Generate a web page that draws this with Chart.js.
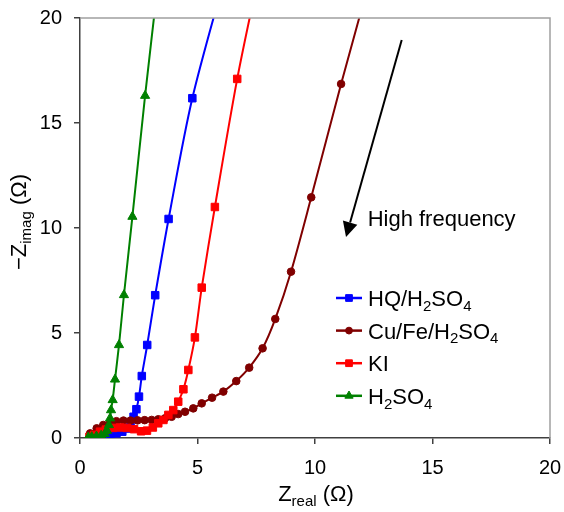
<!DOCTYPE html>
<html>
<head>
<meta charset="utf-8">
<script src="https://cdn.jsdelivr.net/npm/chart.js@4.4.1/dist/chart.umd.min.js"></script>
<style>
  html, body { margin: 0; padding: 0; background: #fff; }
  #chart { display: block; }
</style>
</head>
<body>
<canvas id="chart" width="564" height="512"></canvas>
<script>
// ── Series values (Zreal, -Zimag in ohm) ──────────────────────────────────
const hqX = [0.45, 0.65, 0.85, 1.05, 1.3, 1.55, 1.8, 2.0, 2.15, 2.28, 2.40, 2.51, 2.63, 2.86, 3.20, 3.77, 4.78, 6.3];
const hqY = [0.05, 0.10, 0.14, 0.18, 0.2, 0.22, 0.3, 0.45, 0.7, 1.01, 1.37, 1.97, 2.95, 4.43, 6.80, 10.43, 16.18, 22.5];

const cuX = [0.43, 0.71, 0.99, 1.28, 1.55, 1.85, 2.15, 2.45, 2.75, 3.05, 3.33, 3.62, 3.90, 4.18, 4.47, 4.82, 5.18, 5.62, 6.10, 6.65, 7.20, 7.77, 8.31, 8.98, 9.84, 11.11, 12.5];
const cuY = [0.22, 0.46, 0.62, 0.73, 0.80, 0.83, 0.83, 0.84, 0.85, 0.86, 0.89, 0.94, 1.01, 1.14, 1.25, 1.41, 1.65, 1.92, 2.21, 2.71, 3.35, 4.27, 5.67, 7.92, 11.46, 16.86, 22.5];

const kiX = [0.4, 0.6, 0.85, 1.1, 1.4, 1.7, 2.0, 2.3, 2.6, 2.85, 3.1, 3.33, 3.55, 3.76, 3.97, 4.18, 4.40, 4.61, 4.89, 5.18, 5.74, 6.69, 7.5];
const kiY = [0.05, 0.15, 0.3, 0.4, 0.48, 0.5, 0.48, 0.42, 0.32, 0.35, 0.5, 0.70, 0.86, 1.10, 1.33, 1.73, 2.32, 3.24, 4.79, 7.16, 11.0, 17.1, 21.5];

const h2X = [0.35, 0.5, 0.7, 0.9, 1.05, 1.15, 1.23, 1.28, 1.32, 1.39, 1.49, 1.66, 1.87, 2.23, 2.77, 3.3];
const h2Y = [0.03, 0.05, 0.08, 0.12, 0.2, 0.35, 0.62, 0.94, 1.33, 1.81, 2.79, 4.43, 6.81, 10.54, 16.3, 21.5];

const xTicks = [0, 5, 10, 15, 20];
const yTicks = [0, 5, 10, 15, 20];

// ── Styling ───────────────────────────────────────────────────────────────
const FONT = "'Liberation Sans', Arial, sans-serif";
const AXIS_COLOR = "#404040";
const BORDER_COLOR = "#a0a0a0";

const SERIES = [
  { name: [["HQ/H"], ["2", 1], ["SO"], ["4", 1]], xs: hqX, ys: hqY, color: "#0000ff", style: "rect", r: 5.3, order: 4 },
  { name: [["Cu/Fe/H"], ["2", 1], ["SO"], ["4", 1]], xs: cuX, ys: cuY, color: "#800000", style: "circle", r: 3.8, order: 3 },
  { name: [["KI"]], xs: kiX, ys: kiY, color: "#ff0000", style: "rect", r: 5.3, order: 2 },
  { name: [["H"], ["2", 1], ["SO"], ["4", 1]], xs: h2X, ys: h2Y, color: "#008000", style: "triangle", r: 5.3, order: 1 },
];

function toPoints(xs, ys) {
  return xs.map((x, i) => ({ x: x, y: ys[i] }));
}

// text with subscripts: parts = [[text, isSub], ...]
function richWidth(ctx, parts, size) {
  let w = 0;
  parts.forEach((p) => {
    ctx.font = (p[1] ? Math.round(size * 0.68) : size) + "px " + FONT;
    w += ctx.measureText(p[0]).width;
  });
  return w;
}

function drawRich(ctx, parts, x, y, size) {
  ctx.textBaseline = "alphabetic";
  ctx.textAlign = "left";
  let cx = x;
  parts.forEach((p) => {
    const s = p[1] ? Math.round(size * 0.68) : size;
    ctx.font = s + "px " + FONT;
    ctx.fillText(p[0], cx, p[1] ? y + size * 0.22 : y);
    cx += ctx.measureText(p[0]).width;
  });
}

const extras = {
  id: "extras",
  afterDraw(chart) {
    const ctx = chart.ctx;
    const a = chart.chartArea;
    const xs = chart.scales.x;
    const ys = chart.scales.y;
    ctx.save();

    // gray frame on top and right
    ctx.strokeStyle = BORDER_COLOR;
    ctx.lineWidth = 1.5;
    ctx.beginPath();
    ctx.moveTo(a.left, a.top);
    ctx.lineTo(a.right, a.top);
    ctx.lineTo(a.right, a.bottom);
    ctx.stroke();

    ctx.fillStyle = "#000";

    // x title
    const xt = [["Z"], ["real", 1], [" (\u03a9)"]];
    const xw = richWidth(ctx, xt, 22);
    drawRich(ctx, xt, (a.left + a.right) / 2 - xw / 2 + 1, 501, 22);

    // y title (rotated)
    const yt = [["\u2212Z"], ["imag", 1], [" (\u03a9)"]];
    const yw = richWidth(ctx, yt, 22);
    ctx.save();
    ctx.translate(26, 222);
    ctx.rotate(-Math.PI / 2);
    drawRich(ctx, yt, -yw / 2, 0, 22);
    ctx.restore();

    // arrow "High frequency"
    const x0 = xs.getPixelForValue(13.69), y0 = ys.getPixelForValue(18.95);
    const x1 = xs.getPixelForValue(11.32), y1 = ys.getPixelForValue(9.57);
    const ang = Math.atan2(y1 - y0, x1 - x0);
    const hl = 15, hw = 7.5;
    const bx = x1 - Math.cos(ang) * hl, by = y1 - Math.sin(ang) * hl;
    ctx.strokeStyle = "#000";
    ctx.lineWidth = 2;
    ctx.beginPath();
    ctx.moveTo(x0, y0);
    ctx.lineTo(bx, by);
    ctx.stroke();
    ctx.beginPath();
    ctx.moveTo(x1, y1);
    ctx.lineTo(bx + Math.sin(ang) * hw, by - Math.cos(ang) * hw);
    ctx.lineTo(bx - Math.sin(ang) * hw, by + Math.cos(ang) * hw);
    ctx.closePath();
    ctx.fill();
    drawRich(ctx, [["High frequency"]], xs.getPixelForValue(12.24), ys.getPixelForValue(10.48) + 8, 22);

    // legend
    SERIES.forEach((s, i) => {
      const ly = 298 + i * 32.6;
      ctx.strokeStyle = s.color;
      ctx.lineWidth = 2.5;
      ctx.beginPath();
      ctx.moveTo(336, ly);
      ctx.lineTo(362, ly);
      ctx.stroke();
      ctx.fillStyle = s.color;
      ctx.strokeStyle = s.color;
      ctx.lineWidth = 1;
      Chart.helpers.drawPoint(ctx, { pointStyle: s.style, radius: s.r * 0.9, borderWidth: 1 }, 349, ly);
      ctx.fillStyle = "#000";
      drawRich(ctx, s.name, 368, ly + 8, 22);
    });

    ctx.restore();
  },
};

const datasets = SERIES.map((s) => ({
  label: s.name.map((p) => p[0]).join(""),
  data: toPoints(s.xs, s.ys),
  borderColor: s.color,
  backgroundColor: s.color,
  borderWidth: 2,
  tension: 0.3,
  pointStyle: s.style,
  pointRadius: s.r,
  pointBorderWidth: 1,
  pointBackgroundColor: s.color,
  pointBorderColor: s.color,
  order: s.order,
}));

function axis(ticks, pad) {
  return {
    type: "linear",
    min: ticks[0],
    max: ticks[ticks.length - 1],
    afterBuildTicks: (scale) => { scale.ticks = ticks.map((v) => ({ value: v })); },
    ticks: { color: "#000", font: { size: 20, family: FONT }, padding: pad, maxRotation: 0, autoSkip: false },
    grid: { drawOnChartArea: false, drawTicks: true, tickLength: 6, color: AXIS_COLOR, lineWidth: 1.5 },
    border: { color: AXIS_COLOR, width: 1.5 },
  };
}

function noPad(scale) {
  scale.paddingLeft = 0;
  scale.paddingRight = 0;
  scale.paddingTop = 0;
  scale.paddingBottom = 0;
}

const xAxis = axis(xTicks, 12);
xAxis.afterFit = (scale) => { scale.height = 74; noPad(scale); };
const yAxis = axis(yTicks, 12);
yAxis.afterFit = (scale) => { scale.width = 80; noPad(scale); };

new Chart(document.getElementById("chart"), {
  type: "line",
  data: { datasets: datasets },
  options: {
    responsive: false,
    animation: false,
    layout: { padding: { top: 18, right: 14, left: 0, bottom: 0 } },
    plugins: { legend: { display: false }, tooltip: { enabled: false } },
    scales: { x: xAxis, y: yAxis },
  },
  plugins: [extras],
});
</script>
</body>
</html>
